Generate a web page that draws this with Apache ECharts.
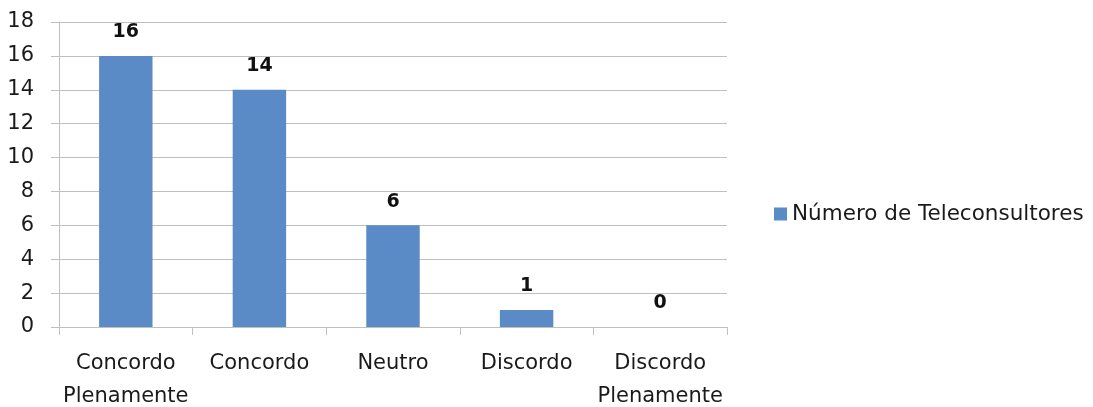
<!DOCTYPE html>
<html>
<head>
<meta charset="utf-8">
<script src="https://cdn.jsdelivr.net/npm/echarts@6/dist/echarts.min.js"></script>
<style>
html,body{margin:0;padding:0;background:#fff;}
#c{width:1093px;height:407px;}
</style>
</head>
<body>
<div id="c"></div>
<script>
const categories = ['Concordo\nPlenamente', 'Concordo', 'Neutro', 'Discordo', 'Discordo\nPlenamente'];
const seriesName = 'Número de Teleconsultores';
const values = [16, 14, 6, 1, 0];

const chart = echarts.init(document.getElementById('c'));
const font = 'DejaVu Sans';
chart.setOption({
  animation: false,
  grid: { left: 59, right: 366, top: 22, bottom: 80, containLabel: false, outerBoundsMode: 'none' },
  legend: {
    data: [seriesName],
    orient: 'vertical',
    left: 769, top: 198,
    icon: 'rect',
    itemWidth: 13, itemHeight: 13, itemGap: 8,
    textStyle: { fontFamily: font, fontSize: 21.5, color: '#1a1a1a' }
  },
  xAxis: {
    type: 'category',
    data: categories,
    axisLine: { lineStyle: { color: '#bfbfbf', width: 1 } },
    axisTick: { show: true, length: 8, alignWithLabel: false, lineStyle: { color: '#bfbfbf' } },
    axisLabel: { fontFamily: font, fontSize: 21, color: '#1a1a1a', margin: 20, lineHeight: 33, interval: 0 }
  },
  yAxis: {
    type: 'value',
    min: 0, max: 18, interval: 2,
    axisLine: { show: true, lineStyle: { color: '#bfbfbf', width: 1 } },
    axisTick: { show: true, length: 8, lineStyle: { color: '#bfbfbf' } },
    splitLine: { lineStyle: { color: '#bfbfbf', width: 1 } },
    axisLabel: { fontFamily: font, fontSize: 21, color: '#1a1a1a', margin: 25, padding: [8, 0, 0, 0] }
  },
  series: [{
    name: seriesName,
    type: 'bar',
    data: values,
    barWidth: '40%',
    itemStyle: { color: '#5b8bc6' },
    label: {
      show: true, position: 'top', distance: 14,
      fontFamily: font, fontSize: 19, fontWeight: 'bold', color: '#111'
    }
  }]
});
</script>
</body>
</html>
